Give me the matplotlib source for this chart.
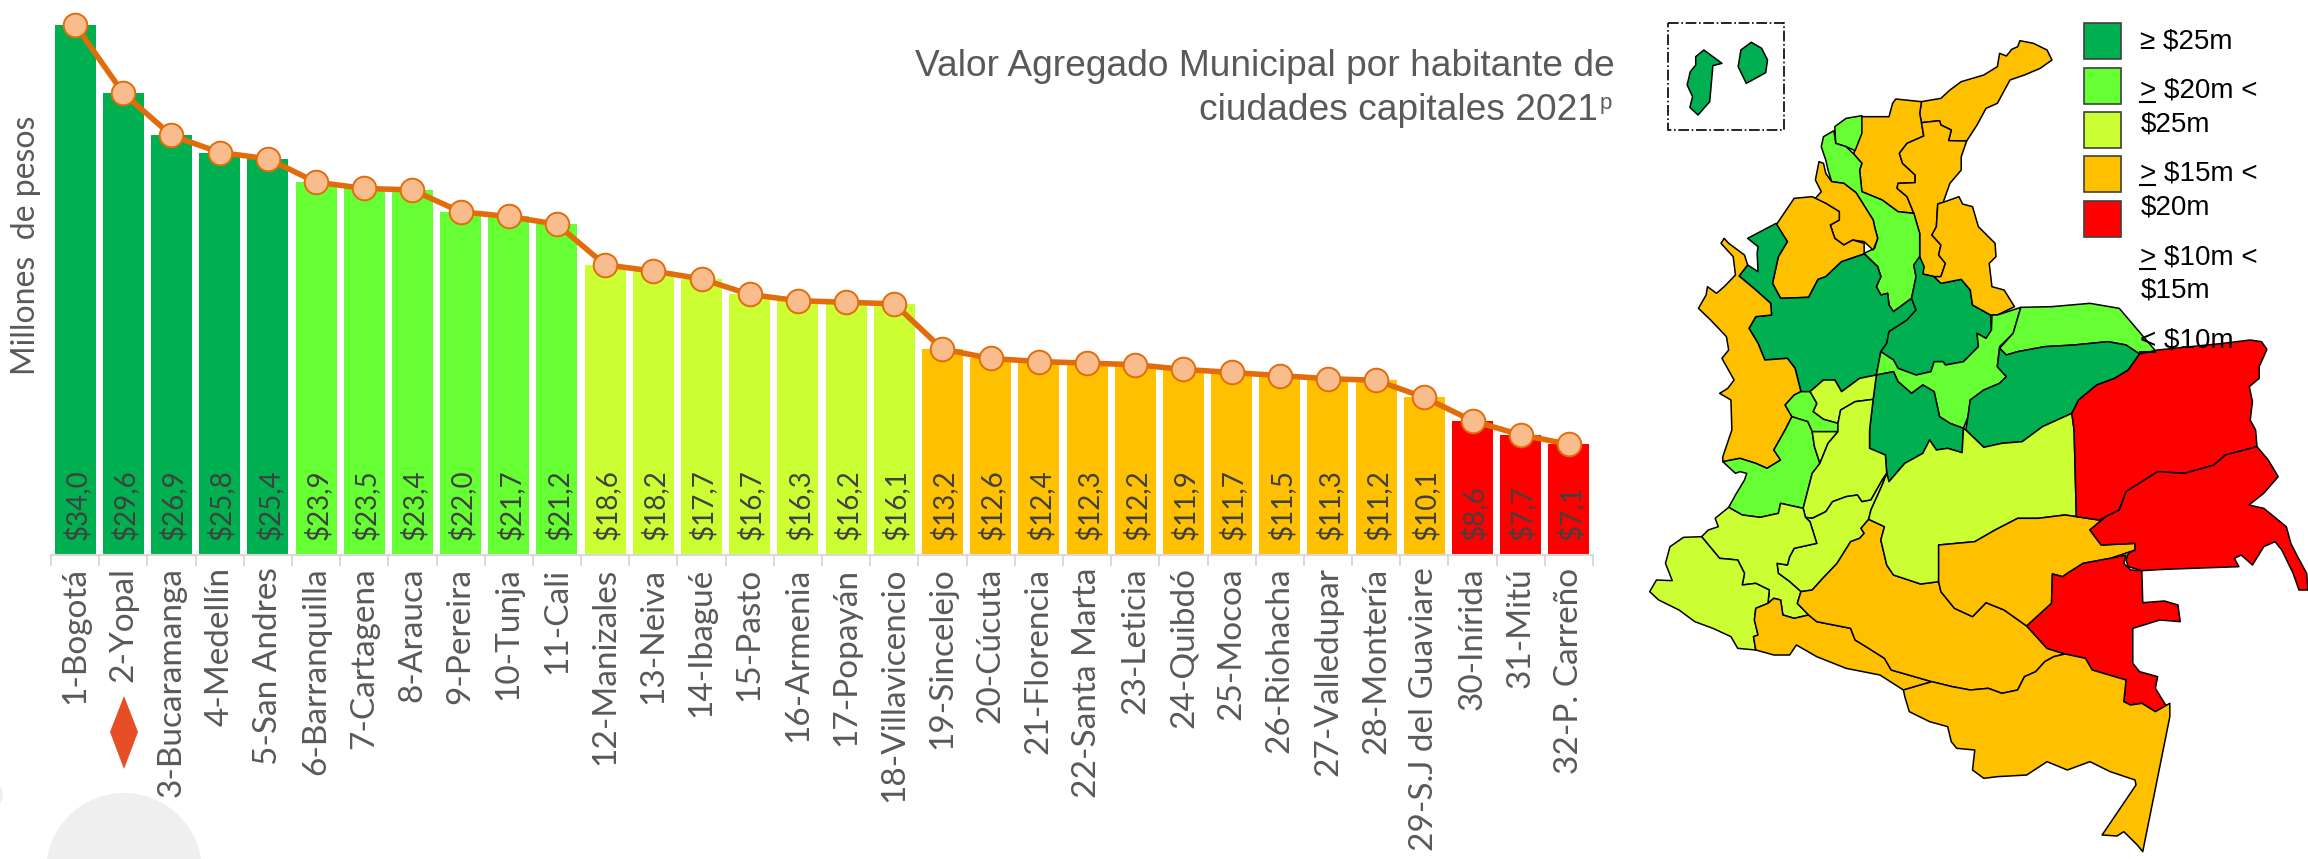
import matplotlib
matplotlib.use('Agg')
import matplotlib.pyplot as plt
from matplotlib.patches import Polygon, Rectangle, Circle

W, H = 2308, 859

cities = ['1-Bogotá', '2-Yopal', '3-Bucaramanga', '4-Medellín', '5-San Andres', '6-Barranquilla',
          '7-Cartagena', '8-Arauca', '9-Pereira', '10-Tunja', '11-Cali', '12-Manizales', '13-Neiva',
          '14-Ibagué', '15-Pasto', '16-Armenia', '17-Popayán', '18-Villavicencio', '19-Sincelejo',
          '20-Cúcuta', '21-Florencia', '22-Santa Marta', '23-Leticia', '24-Quibdó', '25-Mocoa',
          '26-Riohacha', '27-Valledupar', '28-Montería', '29-S.J del Guaviare', '30-Inírida',
          '31-Mitú', '32-P. Carreño']
values = [34.0, 29.6, 26.9, 25.8, 25.4, 23.9, 23.5, 23.4, 22.0, 21.7, 21.2, 18.6, 18.2, 17.7, 16.7, 16.3,
          16.2, 16.1, 13.2, 12.6, 12.4, 12.3, 12.2, 11.9, 11.7, 11.5, 11.3, 11.2, 10.1, 8.6, 7.7, 7.1]
tiers = [0]*5 + [1]*6 + [2]*7 + [3]*11 + [4]*3
tier_colors = ['#00B050', '#66FF33', '#CCFF33', '#FFC000', '#FF0000']

# legend
legend_lines = [('≥ $25m', 41), ('> $20m <', 90), ('$25m', 124), ('> $15m <', 173), ('$20m', 207),
                ('> $10m <', 257), ('$15m', 290), ('< $10m', 340)]

# departamentos (x in map units, y in map units)
guajira = [(712,305),(755,295),(775,270),(800,245),(850,225),(880,200),(885,160),(900,168),(912,148),(925,140),(930,122),(960,130),(990,150),(1001,180),(975,205),(940,225),(908,240),(880,310),(855,325),(835,375),(812,423),(772,422),(778,390),(755,375),(752,362),(712,368),(708,340)]
magdalena = [(655,297),(712,305),(708,340),(712,368),(717,408),(680,430),(663,460),(670,490),(698,525),(698,548),(660,550),(658,565),(680,590),(695,640),(660,635),(625,600),(580,575),(575,510),(580,490),(562,462),(580,350),(640,350),(648,310)]
cesar = [(712,368),(752,362),(755,375),(778,390),(772,422),(812,423),(800,470),(800,510),(775,550),(760,607),(748,612),(745,680),(735,705),(755,735),(750,765),(765,790),(755,830),(740,830),(715,822),(708,770),(708,700),(695,640),(680,590),(658,565),(660,550),(698,548),(698,525),(670,490),(663,460),(680,430),(717,408)]
atlantico = [(520,380),(545,355),(580,347),(580,400),(565,452),(545,440),(522,430)]
bolivar = [(518,392),(495,410),(490,440),(500,480),(505,510),(513,545),(540,550),(567,578),(605,660),(608,680),(615,715),(608,745),(585,760),(615,800),(622,830),(612,860),(622,885),(637,880),(640,915),(650,935),(690,895),(700,830),(695,795),(708,770),(708,700),(695,640),(660,635),(625,600),(580,575),(575,510),(580,490),(562,462),(545,440),(522,430)]
sucre = [(485,485),(495,490),(500,520),(513,545),(540,550),(567,578),(605,660),(608,680),(615,715),(605,750),(585,725),(560,720),(540,735),(520,715),(510,675),(530,660),(530,635),(500,610),(475,598),(490,575),(477,540)]
cordoba = [(430,595),(470,590),(500,610),(530,635),(530,660),(510,675),(520,715),(540,735),(560,720),(585,730),(585,762),(535,785),(500,830),(483,838),(462,892),(400,895),(382,850),(395,770),(415,725),(390,675),(415,625)]
antioquia = [(390,670),(415,725),(395,770),(382,850),(400,895),(462,892),(483,838),(500,830),(535,785),(585,762),(615,800),(622,830),(612,860),(622,885),(637,880),(640,915),(650,935),(690,895),(700,930),(680,960),(640,995),(635,1030),(622,1055),(612,1125),(575,1135),(535,1175),(520,1140),(495,1140),(465,1175),(445,1175),(432,1105),(415,1075),(365,1080),(350,1030),(330,985),(345,950),(380,945),(378,910),(345,870),(308,828),(327,795),(350,815),(348,760),(350,740),(327,715)]
santander = [(708,770),(718,800),(715,822),(740,830),(755,850),(800,838),(820,870),(825,915),(865,945),(867,990),(855,1015),(835,1000),(838,1040),(805,1085),(765,1095),(760,1085),(740,1085),(733,1115),(700,1125),(660,1105),(650,1080),(622,1055),(635,1030),(640,995),(680,960),(700,930),(690,895),(700,830),(695,795)]
norte_santander = [(748,612),(760,607),(795,590),(803,612),(825,620),(838,680),(875,730),(877,770),(862,790),(868,860),(895,870),(918,920),(880,945),(865,945),(825,915),(820,870),(800,838),(755,850),(740,830),(755,830),(765,790),(750,765),(755,735),(735,705),(745,680)]
choco = [(275,715),(285,730),(320,765),(327,795),(308,828),(345,870),(378,910),(380,945),(345,950),(330,985),(350,1030),(365,1080),(415,1075),(432,1105),(445,1175),(430,1185),(410,1215),(425,1250),(410,1290),(385,1350),(400,1380),(370,1405),(345,1390),(310,1375),(272,1385),(272,1370),(292,1290),(290,1200),(265,1180),(283,1165),(297,1140),(270,1075),(285,1050),(280,1010),(245,960),(218,925),(235,885),(238,860),(258,880),(275,860),(300,825),(295,770),(268,730)]
boyaca = [(868,945),(880,945),(932,922),(915,1000),(885,1040),(880,1100),(900,1130),(885,1150),(850,1170),(820,1200),(815,1250),(805,1285),(775,1270),(752,1250),(740,1175),(715,1155),(690,1180),(660,1145),(650,1115),(612,1125),(622,1055),(650,1080),(660,1105),(700,1125),(733,1115),(740,1085),(760,1085),(765,1095),(805,1085),(838,1040),(835,1000),(855,1015),(867,990)]
arauca = [(932,922),(1000,920),(1085,910),(1150,925),(1235,1060),(1195,1062),(1165,1035),(1125,1025),(1050,1035),(985,1040),(925,1055),(900,1065),(885,1045),(915,1000)]
casanare = [(885,1045),(900,1065),(925,1055),(985,1040),(1050,1035),(1125,1025),(1165,1035),(1195,1062),(1170,1110),(1140,1135),(1100,1155),(1060,1200),(1045,1240),(980,1280),(970,1290),(935,1325),(890,1330),(850,1342),(810,1290),(815,1250),(820,1200),(850,1170),(885,1150),(900,1130),(880,1100)]
cundinamarca = [(612,1125),(650,1115),(660,1145),(690,1180),(715,1155),(740,1175),(752,1250),(775,1270),(805,1285),(802,1358),(770,1345),(745,1350),(730,1320),(715,1360),(675,1390),(640,1445),(635,1420),(632,1365),(597,1345),(597,1290),(605,1198)]
caldas = [(465,1175),(495,1140),(520,1140),(535,1175),(575,1135),(612,1125),(605,1198),(565,1205),(533,1230),(527,1270),(495,1258),(472,1235),(480,1210)]
risaralda = [(430,1185),(445,1175),(465,1175),(480,1210),(472,1235),(495,1258),(527,1270),(527,1295),(470,1295),(460,1265),(425,1250),(410,1215)]
valle = [(410,1290),(385,1350),(400,1380),(370,1405),(345,1390),(310,1375),(272,1385),(300,1420),(310,1415),(325,1420),(320,1440),(300,1485),(285,1522),(315,1545),(355,1552),(395,1540),(400,1510),(450,1525),(470,1420),(487,1390),(475,1340),(470,1295),(460,1265),(425,1250)]
quindio = [(470,1295),(527,1295),(505,1330),(487,1390),(475,1340)]
tolima = [(533,1230),(527,1270),(527,1295),(505,1330),(487,1390),(470,1420),(450,1525),(455,1552),(470,1555),(500,1535),(515,1505),(545,1490),(570,1485),(580,1505),(600,1500),(625,1440),(635,1420),(632,1365),(597,1345),(597,1290),(605,1198),(565,1205)]
huila = [(635,1420),(625,1455),(600,1530),(595,1558),(578,1585),(585,1600),(575,1615),(555,1625),(525,1690),(490,1740),(470,1770),(445,1775),(420,1745),(395,1720),(392,1690),(415,1695),(420,1670),(430,1645),(480,1630),(465,1565),(455,1552),(470,1555),(500,1535),(515,1505),(545,1490),(570,1485),(580,1505),(600,1500),(625,1440)]
cauca = [(285,1522),(255,1555),(262,1580),(240,1590),(225,1610),(265,1675),(305,1680),(320,1720),(315,1755),(345,1750),(375,1770),(372,1810),(385,1795),(400,1800),(405,1845),(430,1855),(462,1845),(437,1810),(445,1775),(420,1745),(395,1720),(392,1690),(415,1695),(420,1670),(430,1645),(480,1630),(465,1565),(455,1552),(450,1525),(400,1510),(395,1540),(355,1552),(315,1545)]
narino = [(225,1610),(265,1675),(305,1680),(320,1720),(315,1755),(345,1750),(375,1770),(372,1810),(345,1825),(342,1860),(350,1905),(340,1910),(345,1950),(305,1945),(290,1910),(250,1885),(210,1865),(175,1830),(130,1800),(110,1775),(125,1740),(160,1742),(145,1690),(155,1640),(185,1612)]
putumayo = [(345,1825),(372,1810),(385,1795),(400,1800),(405,1845),(430,1855),(462,1845),(480,1865),(555,1885),(565,1920),(595,1945),(630,1975),(645,2010),(735,2045),(672,2070),(620,2025),(545,2005),(480,1970),(435,1935),(420,1965),(385,1965),(345,1950),(340,1910),(350,1905),(342,1860)]
caqueta = [(595,1558),(630,1580),(622,1620),(635,1695),(650,1725),(710,1752),(750,1745),(755,1775),(785,1825),(825,1850),(855,1808),(895,1830),(945,1878),(990,1945),(1030,1962),(1005,1970),(985,1985),(965,2015),(940,2030),(925,2070),(890,2080),(860,2065),(820,2070),(780,2060),(735,2045),(645,2010),(630,1975),(595,1945),(565,1920),(555,1885),(480,1865),(462,1845),(437,1810),(445,1775),(470,1770),(490,1740),(525,1690),(555,1625),(575,1615),(585,1600),(578,1585)]
meta = [(810,1290),(850,1342),(890,1330),(935,1325),(970,1290),(980,1280),(1045,1240),(1050,1290),(1055,1550),(1030,1545),(970,1555),(925,1555),(875,1590),(830,1625),(750,1635),(750,1745),(710,1752),(650,1725),(635,1695),(622,1620),(630,1580),(595,1558),(600,1530),(625,1455),(635,1420),(640,1445),(675,1390),(715,1360),(730,1320),(745,1350),(770,1345),(802,1358),(805,1285)]
guaviare = [(750,1635),(830,1625),(875,1590),(925,1555),(970,1555),(1030,1545),(1055,1550),(1105,1560),(1120,1550),(1085,1590),(1110,1635),(1185,1630),(1185,1650),(1130,1675),(1070,1690),(1035,1720),(1025,1730),(1002,1722),(1000,1810),(945,1878),(895,1830),(855,1808),(825,1850),(785,1825),(755,1775),(750,1745)]
vichada = [(1195,1062),(1235,1050),(1380,1030),(1440,1020),(1465,1025),(1477,1048),(1460,1100),(1460,1135),(1438,1160),(1445,1205),(1440,1260),(1452,1290),(1455,1340),(1385,1365),(1360,1395),(1295,1420),(1235,1415),(1200,1445),(1165,1475),(1150,1530),(1120,1550),(1105,1560),(1055,1550),(1050,1290),(1045,1240),(1060,1200),(1100,1155),(1140,1135),(1170,1110)]
guainia = [(1120,1550),(1150,1530),(1165,1475),(1200,1445),(1235,1415),(1295,1420),(1360,1395),(1385,1365),(1455,1340),(1480,1380),(1502,1430),(1470,1480),(1437,1515),(1470,1525),(1520,1580),(1530,1630),(1545,1670),(1565,1720),(1568,1770),(1548,1770),(1535,1720),(1510,1650),(1495,1625),(1470,1640),(1445,1695),(1420,1665),(1405,1675),(1415,1700),(1250,1708),(1200,1712),(1170,1700),(1165,1680),(1170,1660),(1185,1650),(1185,1630),(1110,1635),(1085,1590)]
vaupes = [(1002,1722),(1025,1730),(1035,1720),(1070,1690),(1130,1675),(1165,1665),(1160,1690),(1175,1710),(1200,1712),(1202,1808),(1250,1803),(1280,1815),(1285,1865),(1240,1860),(1180,1885),(1180,1990),(1195,2015),(1235,2030),(1230,2065),(1255,2120),(1230,2135),(1200,2110),(1175,2115),(1160,2105),(1165,2040),(1090,2010),(1075,1975),(1030,1962),(990,1945),(945,1878),(1000,1810)]
amazonas = [(672,2070),(735,2045),(780,2060),(820,2070),(860,2065),(890,2080),(925,2070),(940,2030),(965,2015),(985,1985),(1005,1970),(1030,1962),(1075,1975),(1090,2010),(1165,2040),(1160,2105),(1175,2115),(1200,2110),(1230,2135),(1262,2110),(1262,2150),(1202,2555),(1190,2535),(1160,2495),(1145,2508),(1112,2505),(1187,2355),(1185,2340),(1130,2315),(1085,2285),(1035,2310),(990,2285),(945,2325),(880,2330),(850,2335),(825,2310),(830,2250),(790,2245),(778,2225),(770,2180),(730,2165),(685,2135),(675,2090)]
isla_1 = [(230,150),(270,190),(250,197),(243,305),(217,345),(199,322),(205,290),(193,255),(200,215),(212,195),(212,170)]
isla_2 = [(335,127),(358,145),(371,180),(367,218),(324,250),(306,200),(312,150)]

map_parts = [(guajira, 3), (magdalena, 3), (cesar, 3), (atlantico, 1), (bolivar, 1), (sucre, 3), (cordoba, 3),
             (antioquia, 0), (santander, 0), (norte_santander, 3), (choco, 3), (boyaca, 1), (arauca, 1),
             (casanare, 0), (cundinamarca, 0), (caldas, 2), (risaralda, 1), (valle, 1), (quindio, 2),
             (tolima, 2), (huila, 2), (cauca, 2), (narino, 2), (putumayo, 3), (caqueta, 3), (meta, 2),
             (guaviare, 3), (vichada, 4), (guainia, 4), (vaupes, 4), (amazonas, 3), (isla_1, 0), (isla_2, 0)]

plt.rcParams['font.family'] = ['Lato', 'DejaVu Sans']

fig = plt.figure(figsize=(W / 100, H / 100), dpi=100)

# bars + line
ax = fig.add_axes([51 / W, 1 - 555 / H, 1542 / W, 555 / H])
x = list(range(len(cities)))
ax.bar(x, values, width=0.85, color=[tier_colors[t] for t in tiers], zorder=2)
ax.plot(x, values, color='#E36C0A', lw=4, marker='o', ms=17, mfc='#F9BC8C', mec='#E36C0A', mew=1.4,
        clip_on=False, zorder=3)
for i, v in zip(x, values):
    ax.text(i + 0.03, 0.95, '$' + f'{v:.1f}'.replace('.', ','), rotation=90, ha='center', va='bottom',
            fontsize=20, color='#404040', parse_math=False, zorder=4)
ax.set_xlim(-0.5, 31.5)
ax.set_ylim(0, 555 / 15.6)
ax.set_xticks(x, cities, rotation=90, fontsize=24, color='#595959')
ax.set_xticks([i - 0.5 for i in range(33)], minor=True)
ax.tick_params(axis='x', which='major', length=0, pad=9)
ax.tick_params(axis='x', which='minor', length=8, width=1.4, color='#D9D9D9')
ax.set_yticks([])
for s in ['top', 'left', 'right']:
    ax.spines[s].set_visible(False)
ax.spines['bottom'].set_color('#D9D9D9')
ax.spines['bottom'].set_linewidth(1.5)
ax.patch.set_alpha(0)

# overlay in pixels
over = fig.add_axes([0, 0, 1, 1])
over.set_xlim(0, W)
over.set_ylim(H, 0)
over.axis('off')
over.add_patch(Rectangle((150, 804), 40, 55, fc='white', ec='none'))
over.add_patch(Circle((124, 871), 78, fc='#EFEFEF', ec='none'))
over.add_patch(Circle((-12, 795), 15, fc='#EFEFEF', ec='none'))
over.add_patch(Polygon([(124, 696), (138, 732), (124, 769), (110, 732)], fc='#E84E25', ec='none'))
over.text(26, 245, 'Millones  de pesos', rotation=90, ha='center', va='center', fontsize=23, color='#595959')
over.text(1615, 66, 'Valor Agregado Municipal por habitante de', ha='right', va='center', fontsize=26.7,
          family='Liberation Sans', color='#595959')
over.text(1598, 111, 'ciudades capitales 2021', ha='right', va='center', fontsize=26.7,
          family='Liberation Sans', color='#595959')
over.text(1600, 103, 'p', ha='left', va='center', fontsize=16, family='Liberation Sans', color='#595959')

# map
mp = fig.add_axes([1600 / W, 0, 708 / W, 1])
mp.set_xlim(0, 1568)
mp.set_ylim(2577, 0)
mp.axis('off')
mp.patch.set_alpha(0)
for pts, t in map_parts:
    mp.add_patch(Polygon(pts, closed=True, fc=tier_colors[t], ec='black', lw=1.1, joinstyle='round', clip_on=False))
mp.add_patch(Rectangle((150, 68), 258, 322, fc='none', ec='black', lw=1.2, ls='-.'))

for k, c in enumerate(tier_colors):
    mp.add_patch(Rectangle((1072, 70 + k * 133), 81, 108, fc=c, ec='#404040', lw=1.2))
for txt, py in legend_lines:
    mp.text(1197, py * 3, txt, ha='left', va='center', fontsize=20, family='Liberation Sans',
            color='black', parse_math=False, zorder=6)
    if txt[0] in '><':
        mp.plot([1197, 1230], [py * 3 + 37, py * 3 + 37], color='black', lw=1.5, zorder=6)

fig.savefig('out.png', dpi=100)
